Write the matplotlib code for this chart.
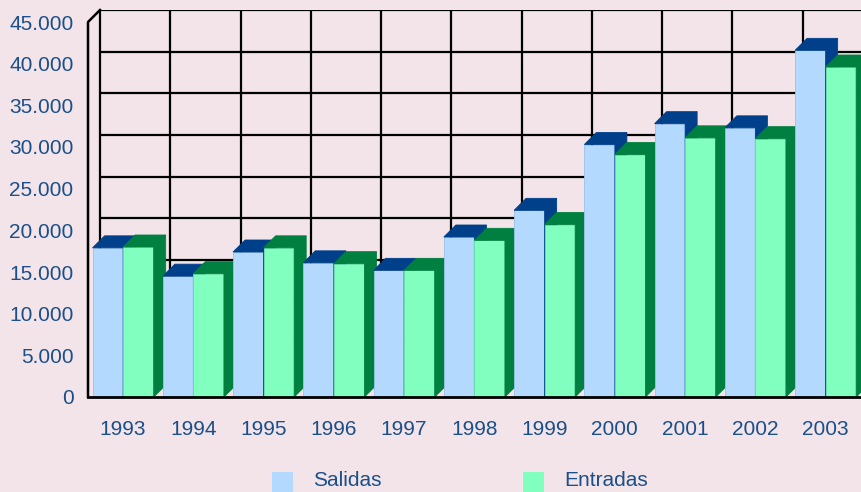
import numpy as np
import matplotlib
matplotlib.use('Agg')
import matplotlib.pyplot as plt
from matplotlib.patches import Polygon, Rectangle

years = ['1993', '1994', '1995', '1996', '1997', '1998', '1999', '2000', '2001', '2002', '2003']
salidas = [17900, 14500, 17400, 16100, 15200, 19200, 22400, 30300, 32800, 32300, 41600]
entradas = [18000, 14800, 17900, 16000, 15200, 18800, 20700, 29100, 31100, 31000, 39600]
yticks = [0, 5000, 10000, 15000, 20000, 25000, 30000, 35000, 40000, 45000]

bg = '#F2E4E8'
txt = '#1B4F8A'
sal_front, sal_dark = '#B3D9FF', '#00408A'
ent_front, ent_dark = '#80FFBF', '#008040'

W, H = 862, 492
fig = plt.figure(figsize=(W / 100, H / 100), dpi=100, facecolor=bg)
ax = fig.add_axes([88 / W, (H - 397) / H, 774 / W, 387 / H])
ax.set_facecolor(bg)
ax.set_xlim(0, 774 / 70.25)
ax.set_ylim(0, 46440)
for s in ax.spines.values():
    s.set_visible(False)

dx = 12 / 70.25      # depth offset in category units
dy = 12 * 120        # depth offset in value units
top = yticks[-1]
xmax = ax.get_xlim()[1]

# back wall grid
for v in yticks:
    ax.plot([dx, xmax], [v + dy, v + dy], color='black', lw=1.6, zorder=1, solid_capstyle='butt')
for k in range(len(years) + 1):
    ax.plot([k + dx, k + dx], [dy, top + dy], color='black', lw=1.6, zorder=1)
# left wall + floor edge
ax.plot([0, 0, dx], [0, top, top + dy], color='black', lw=1.8, zorder=1, clip_on=False)
ax.plot([0, xmax], [0, 0], color='black', lw=2, zorder=50, clip_on=False)


def bar3d(x0, w, h, front, dark, edge, z):
    ax.add_patch(Rectangle((x0, 0), w, h, facecolor=front, edgecolor=edge, lw=0.6, zorder=z))
    ax.add_patch(Polygon([(x0, h), (x0 + w, h), (x0 + w + dx, h + dy), (x0 + dx, h + dy)],
                         closed=True, facecolor=dark, edgecolor=dark, lw=0.6, zorder=z))
    ax.add_patch(Polygon([(x0 + w, 0), (x0 + w + dx, dy), (x0 + w + dx, h + dy), (x0 + w, h)],
                         closed=True, facecolor=dark, edgecolor=dark, lw=0.6, zorder=z))


bw = 0.435
z = 10
for i in range(len(years)):
    c = i + 0.5
    bar3d(c - bw, bw, salidas[i], sal_front, sal_dark, '#9CC2EC', z)
    bar3d(c, bw, entradas[i], ent_front, ent_dark, '#6FE6AE', z + 1)
    z += 2

ax.set_xticks(np.arange(len(years)) + 0.5)
ax.set_xticklabels(years)
ax.set_yticks(yticks)
ax.set_yticklabels(['{:,}'.format(v).replace(',', '.') for v in yticks])
ax.tick_params(axis='both', length=0, labelcolor=txt, labelsize=15)
ax.tick_params(axis='y', pad=10.5)
ax.tick_params(axis='x', pad=16.5)
for lab in ax.get_xticklabels() + ax.get_yticklabels():
    lab.set_family('Liberation Sans')

# legend
fig.add_artist(Rectangle((272 / W, 0), 21 / W, 20 / H, transform=fig.transFigure, facecolor=sal_front, edgecolor='none'))
fig.add_artist(Rectangle((523 / W, 0), 21 / W, 20 / H, transform=fig.transFigure, facecolor=ent_front, edgecolor='none'))
fig.text(313 / W, 1 - 481 / H, 'Salidas', color=txt, fontsize=15, family='Liberation Sans', va='center')
fig.text(564 / W, 1 - 481 / H, 'Entradas', color=txt, fontsize=15, family='Liberation Sans', va='center')

fig.savefig('out.png', dpi=100, facecolor=bg)
